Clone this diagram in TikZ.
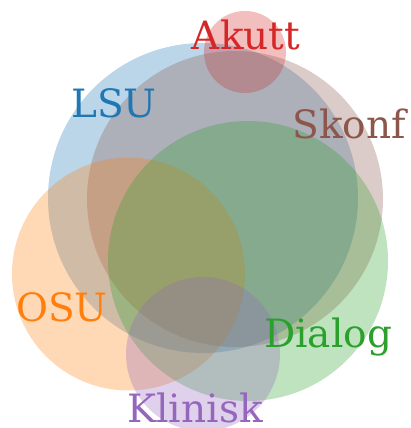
\documentclass[tikz,border=0pt]{standalone}
\usepackage{fontspec}
\setmainfont{DejaVu Serif}
\definecolor{cblue}{HTML}{1F77B4}
\definecolor{corange}{HTML}{FF7F0E}
\definecolor{cgreen}{HTML}{2CA02C}
\definecolor{cred}{HTML}{D62728}
\definecolor{cpurple}{HTML}{9467BD}
\definecolor{cbrown}{HTML}{8C564B}
\tikzset{
  setc/.style={fill=#1, fill opacity=0.3, draw=none},
  lab/.style={text=#1, anchor=base, inner sep=0pt, font=\fontsize{39}{39}\selectfont}
}
\begin{document}
\begin{tikzpicture}[x=1pt,y=-1pt]
\useasboundingbox (0,0) rectangle (411,428);
\fill[setc=cblue] (203,198) circle[radius=155];
\fill[setc=cred] (245,52) circle[radius=41];
\fill[setc=cbrown] (235,199) circle[radius=148];
\fill[setc=corange] (128.5,274) circle[radius=116.5];
\fill[setc=cgreen] (248,261) circle[radius=140];
\fill[setc=cpurple] (203,354) circle[radius=77];
\node[lab=cred] (akutt) at (246,50) {Akutt};
\node[lab=cblue] (lsu) at (114,117) {LSU};
\node[lab=cbrown] (skonf) at (349,138) {Skonf};
\node[lab=corange] (osu) at (62,321) {OSU};
\node[lab=cgreen] (dialog) at (328,347) {Dialog};
\node[lab=cpurple, text depth=0pt] (klinisk) at (195,422) {Klinisk};
\end{tikzpicture}
\end{document}
